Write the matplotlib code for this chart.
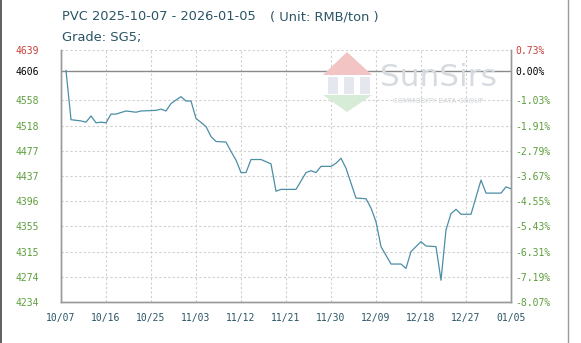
import numpy as np
import pandas as pd
import matplotlib as mpl

mpl.use('Agg')

import matplotlib.pyplot as plt
import matplotlib.dates as mdates
from matplotlib.patches import Polygon
from matplotlib.lines import Line2D

# PVC spot price (RMB/ton)
start = pd.Timestamp('2025-10-07')
day_offsets = [1, 2, 4, 5, 6, 7, 8, 9, 10, 11, 13, 15, 16, 19, 20, 21, 22,
               24, 25, 26, 27, 29, 30, 31, 33, 34, 35, 36, 37, 38, 40, 42,
               43, 44, 47, 49, 50, 51, 52, 54, 55, 56, 57, 59, 61, 62, 63,
               64, 66, 68, 69, 70, 72, 73, 75, 76, 77, 78, 79, 80, 82, 84,
               85, 88, 89, 90]
prices = [4606, 4527, 4525, 4523, 4533, 4522, 4523, 4522, 4536, 4536, 4541,
          4539, 4541, 4542, 4544, 4541, 4553, 4564, 4557, 4557, 4529, 4516,
          4500, 4492, 4491, 4476, 4462, 4442, 4442, 4463, 4463, 4456, 4412,
          4415, 4415, 4442, 4445, 4442, 4452, 4452, 4457, 4465, 4449, 4401,
          4400, 4385, 4363, 4323, 4295, 4295, 4288, 4315, 4331, 4324,
          4323, 4269, 4350, 4376, 4383, 4375, 4375, 4430, 4409, 4409, 4419,
          4416]

base = 4606
left_ticks = [4234, 4274.5, 4315, 4355.5, 4396, 4436.5, 4477, 4517.5, 4558,
              4606, 4639]
left_labels = ['4234', '4274', '4315', '4355', '4396', '4437', '4477', '4518',
               '4558', '4606', '4639']
right_labels = ['-8.07%', '-7.19%', '-6.31%', '-5.43%', '-4.55%', '-3.67%',
                '-2.79%', '-1.91%', '-1.03%', '0.00%', '0.73%']
grid_levels = [4234, 4274.5, 4315, 4355.5, 4396, 4436.5, 4477, 4517.5, 4558,
               4639]

dates = [start + pd.Timedelta(days=d) for d in day_offsets]
tick_dates = [start + pd.Timedelta(days=9 * k) for k in range(11)]

GREEN = '#5c9e3c'
RED = '#c9403a'
TEXT = '#2b5566'

fig = plt.figure(figsize=(5.81, 3.43), dpi=100)
ax = fig.add_axes([61 / 581, 1 - 302 / 343, 450 / 581, 252 / 343])

# watermark
fig.text(438 / 581, 1 - 77 / 343, 'SunSirs', fontsize=22.5, color='#d6dbe0',
         ha='center', va='center', zorder=0)
fig.text(438 / 581, 1 - 101 / 343, 'COMMODITY DATA GROUP', fontsize=5,
         color='#d0d4d8', ha='center', va='center', zorder=0)
roof = Polygon([(323 / 581, 1 - 75 / 343), (372 / 581, 1 - 75 / 343),
                (347 / 581, 1 - 52 / 343)], closed=True,
               transform=fig.transFigure, facecolor='#f2c4c4', edgecolor='none',
               zorder=0)
chevron = Polygon([(323 / 581, 1 - 95 / 343), (372 / 581, 1 - 95 / 343),
                   (347 / 581, 1 - 112 / 343)], closed=True,
                  transform=fig.transFigure, facecolor='#d6ecd6',
                  edgecolor='none', zorder=0)
fig.patches.extend([roof, chevron])
for x0 in (328, 344, 360):
    fig.patches.append(plt.Rectangle((x0 / 581, 1 - 94 / 343), 10 / 581,
                                     17 / 343, transform=fig.transFigure,
                                     facecolor='#e4e8ee', edgecolor='none',
                                     zorder=0))
ax.patch.set_alpha(0)

for lv in grid_levels:
    ax.axhline(lv, color='#cfcfcf', lw=0.8, ls=(0, (2, 2)), zorder=1)
for td in tick_dates[1:-1]:
    ax.axvline(td, color='#cfcfcf', lw=0.8, ls=(0, (2, 2)), zorder=1)
ax.axhline(base, color='#8a8a8a', lw=1.0, zorder=2)

ax.plot(dates, prices, color='#4b8ea6', lw=0.9, zorder=3)

ax.set_xlim(tick_dates[0], tick_dates[-1])
ax.set_ylim(4234, 4639)

ax.set_xticks(tick_dates)
ax.xaxis.set_major_formatter(mdates.DateFormatter('%m/%d'))
ax.set_yticks(left_ticks)
ax.set_yticklabels(left_labels)
ax.tick_params(axis='x', length=0, pad=8, labelsize=7, labelcolor=TEXT)
ax.tick_params(axis='y', length=0, pad=16, labelsize=7)
for lbl in ax.get_xticklabels():
    lbl.set_family('DejaVu Sans Mono')
for lbl, txt in zip(ax.get_yticklabels(), left_labels):
    lbl.set_family('DejaVu Sans Mono')
    lbl.set_color(RED if txt == '4639' else ('black' if txt == '4606' else GREEN))

ax2 = ax.twinx()
ax2.set_ylim(ax.get_ylim())
ax2.set_yticks(left_ticks)
ax2.set_yticklabels(right_labels)
ax2.tick_params(axis='y', length=0, pad=3, labelsize=7)
for lbl, txt in zip(ax2.get_yticklabels(), right_labels):
    lbl.set_family('DejaVu Sans Mono')
    lbl.set_color(RED if txt == '0.73%' else ('black' if txt == '0.00%' else GREEN))

for a in (ax, ax2):
    a.spines['top'].set_visible(False)
    for s in ('left', 'right', 'bottom'):
        a.spines[s].set_color('#9a9a9a')
        a.spines[s].set_linewidth(1.0)

fig.text(62 / 581, 1 - 17 / 343, 'PVC 2025-10-07 - 2026-01-05',
         fontsize=9.4, color=TEXT, va='center', ha='left')
fig.text(270 / 581, 1 - 17 / 343, '( Unit: RMB/ton )',
         fontsize=9.4, color=TEXT, va='center', ha='left')
fig.text(62 / 581, 1 - 37 / 343, 'Grade: SG5;',
         fontsize=9.4, color=TEXT, va='center', ha='left')

# frame lines at the image edges
fig.add_artist(Line2D([1 / 581, 1 / 581], [0, 1], transform=fig.transFigure,
                      color='#444444', lw=1.2))
fig.add_artist(Line2D([568 / 581, 568 / 581], [0, 1], transform=fig.transFigure,
                      color='#9a9a9a', lw=1.0))

fig.savefig('out.png', dpi=100)
